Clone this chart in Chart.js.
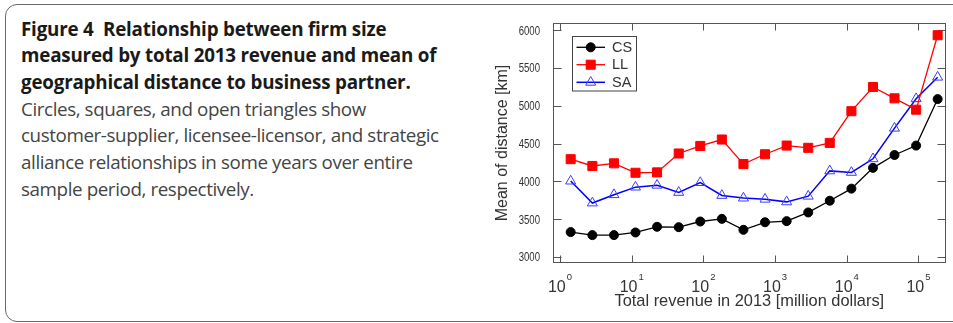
<!doctype html>
<html>
  <head>
    <meta charset="utf-8" />
    <title>Figure 4 firm size vs distance</title>
    <script src="https://cdn.jsdelivr.net/npm/chart.js@4.4.1/dist/chart.umd.min.js"></script>
    <style>
html, body {
  margin: 0;
  padding: 0;
  background: #fff;
}
.page {
  position: relative;
  width: 953px;
  height: 323px;
  overflow: hidden;
}
.frame {
  position: absolute;
  left: 5px;
  top: 4px;
  width: 990px;
  height: 316px;
  border: 1.3px solid #6a6a6a;
  border-radius: 12px;
}
.caption {
  position: absolute;
  left: 21px;
  top: 15.5px;
  font-family: "Open Sans", "Noto Sans", sans-serif;
  font-size: 18.8px;
  line-height: 26.7px;
  color: #444;
  white-space: nowrap;
  letter-spacing: -0.4px;
}
.caption b {
  color: #1a1a1a;
  font-weight: 700;
  letter-spacing: -0.2px;
}
#chart {
  position: absolute;
  left: 480px;
  top: 0;
}
</style>
  </head>
  <body>
    <div class="page">
      <div class="frame"></div>
      <div class="caption">
        <b>Figure 4&nbsp;&nbsp;Relationship between firm size<br>measured by total 2013 revenue and mean of<br>geographical distance to business partner.</b><br>Circles, squares, and open triangles show<br>customer-supplier, licensee-licensor, and strategic<br>alliance relationships in some years over entire<br>sample period, respectively.
      </div>
      <canvas id="chart" width="473" height="323"></canvas>
    </div>
    <script>
      // bin centres of total revenue (million dollars), doubling each bin
      const revenue = [1.41, 2.83, 5.66, 11.3, 22.6, 45.3, 90.5, 181, 362, 724, 1450, 2900, 5790, 11600, 23200, 46300, 92700, 185000];
      // mean distance to partner [km]
      const cs = [3330, 3290, 3290, 3325, 3400, 3395, 3470, 3505, 3360, 3460, 3475, 3590, 3745, 3905, 4180, 4350, 4475, 5090];
      const ll = [4295, 4205, 4240, 4115, 4120, 4370, 4470, 4555, 4230, 4360, 4475, 4445, 4510, 4930, 5250, 5100, 4950, 5935];
      const sa = [4005, 3715, 3825, 3925, 3950, 3855, 3985, 3815, 3780, 3765, 3730, 3805, 4140, 4120, 4300, 4705, 5095, 5380];
      const decades = [1, 10, 100, 1000, 10000, 100000];
      const yTicks = [3000, 3500, 4000, 4500, 5000, 5500, 6000];
      const seriesNames = ['CS', 'LL', 'SA'];

      const pts = (ys) => ys.map((y, i) => ({x: revenue[i], y: y}));
      const axisFont = '"Liberation Sans", Arial, sans-serif';

      function marker(ctx, style, x, y, r, fill, stroke, lw) {
        ctx.save();
        ctx.beginPath();
        if (style === 'circle') {
          ctx.arc(x, y, r, 0, Math.PI * 2);
        } else if (style === 'rect') {
          const s = r * Math.SQRT1_2;
          ctx.rect(x - s, y - s, s * 2, s * 2);
        } else {
          for (let k = 0; k < 3; k++) {
            const a = k * 2 * Math.PI / 3;
            const px = x + Math.sin(a) * r, py = y - Math.cos(a) * r;
            k ? ctx.lineTo(px, py) : ctx.moveTo(px, py);
          }
          ctx.closePath();
        }
        if (fill) { ctx.fillStyle = fill; ctx.fill(); }
        if (stroke) { ctx.lineWidth = lw; ctx.strokeStyle = stroke; ctx.stroke(); }
        ctx.restore();
      }

      // box round the plot, inward ticks on all four sides, tick labels
      const frame = {
        id: 'frame',
        beforeDatasetsDraw(chart) {
          const {ctx, chartArea: a, scales} = chart;
          const L = Math.round(a.left) + 0.5, R = Math.round(a.right) - 0.5;
          const T = Math.round(a.top) + 0.5, B = Math.round(a.bottom) - 0.5;
          ctx.save();
          ctx.strokeStyle = '#555';
          ctx.lineWidth = 1;
          ctx.strokeRect(L, T, R - L, B - T);
          ctx.beginPath();
          scales.y.ticks.forEach((t) => {
            const py = Math.round(scales.y.getPixelForValue(t.value)) + 0.5;
            ctx.moveTo(L, py); ctx.lineTo(L + 8, py);
            ctx.moveTo(R, py); ctx.lineTo(R - 8, py);
          });
          scales.x.ticks.forEach((t) => {
            const px = Math.round(scales.x.getPixelForValue(t.value)) + 0.5;
            ctx.moveTo(px, B); ctx.lineTo(px, B - 7);
            ctx.moveTo(px, T); ctx.lineTo(px, T + 7);
          });
          ctx.stroke();

          ctx.fillStyle = '#333';
          // y labels, squeezed a little sideways
          ctx.font = '12px ' + axisFont;
          ctx.textAlign = 'right';
          ctx.textBaseline = 'middle';
          scales.y.ticks.forEach((t) => {
            const py = scales.y.getPixelForValue(t.value);
            ctx.save();
            ctx.translate(a.left - 13, py + 1);
            ctx.scale(0.8, 1);
            ctx.fillText(String(t.value), 0, 0);
            ctx.restore();
          });

          // x labels as 10 with a raised exponent
          ctx.textBaseline = 'alphabetic';
          ctx.textAlign = 'left';
          scales.x.ticks.forEach((t) => {
            const px = scales.x.getPixelForValue(t.value);
            const exp = String(Math.round(Math.log10(t.value)));
            ctx.font = '16px ' + axisFont;
            const w1 = ctx.measureText('10').width;
            ctx.font = '9.5px ' + axisFont;
            const w2 = ctx.measureText(exp).width;
            const x0 = px - (w1 + 1 + w2) / 2;
            ctx.font = '16px ' + axisFont;
            ctx.fillText('10', x0, 292);
            ctx.font = '9.5px ' + axisFont;
            ctx.fillText(exp, x0 + w1 + 1, 280);
          });
          ctx.restore();
        }
      };

      // legend box in the upper left of the plot
      const legendBox = {
        id: 'legendBox',
        afterDatasetsDraw(chart) {
          const ctx = chart.ctx;
          ctx.save();
          ctx.fillStyle = '#fff';
          ctx.fillRect(92.5, 36.5, 64, 54.5);
          ctx.strokeStyle = '#444';
          ctx.lineWidth = 1;
          ctx.strokeRect(92.5, 36.5, 64, 54.5);
          const rows = [47.3, 64.7, 82.3];
          chart.data.datasets.forEach((ds, i) => {
            const y = rows[i];
            ctx.beginPath();
            ctx.strokeStyle = ds.borderColor;
            ctx.lineWidth = ds.borderWidth;
            ctx.moveTo(96.5, y); ctx.lineTo(125, y);
            ctx.stroke();
            marker(ctx, ds.pointStyle, 110.7, y, ds.pointRadius,
              ds.pointBackgroundColor === 'transparent' ? null : ds.pointBackgroundColor,
              ds.pointBorderColor, ds.pointBorderWidth);
            ctx.fillStyle = '#333';
            ctx.font = '14.5px ' + axisFont;
            ctx.textBaseline = 'middle';
            ctx.fillText(seriesNames[i], 132, y + 0.5);
          });
          ctx.restore();
        }
      };

      new Chart(document.getElementById('chart'), {
        type: 'line',
        data: {
          datasets: [
            {
              label: seriesNames[0], data: pts(cs),
              borderColor: '#000', borderWidth: 1.3,
              pointStyle: 'circle', pointRadius: 4.5,
              pointBackgroundColor: '#000', pointBorderColor: '#000', pointBorderWidth: 1,
            },
            {
              label: seriesNames[1], data: pts(ll),
              borderColor: '#ff0000', borderWidth: 1.3,
              pointStyle: 'rect', pointRadius: 6.4,
              pointBackgroundColor: '#ff0000', pointBorderColor: '#ff0000', pointBorderWidth: 1,
            },
            {
              label: seriesNames[2], data: pts(sa),
              borderColor: '#0000ff', borderWidth: 1.5,
              pointStyle: 'triangle', pointRadius: 5.8,
              pointBackgroundColor: 'transparent', pointBorderColor: '#3c3cff', pointBorderWidth: 1,
            },
          ]
        },
        options: {
          responsive: false,
          animation: false,
          devicePixelRatio: 1,
          layout: {padding: {top: 23, right: 7, bottom: 0, left: 0}},
          plugins: {legend: {display: false}, tooltip: {enabled: false}},
          elements: {line: {tension: 0}},
          scales: {
            x: {
              type: 'logarithmic',
              min: 0.799,
              max: 238900,
              grid: {display: false},
              border: {display: false},
              ticks: {display: false},
              afterBuildTicks(scale) { scale.ticks = decades.map((v) => ({value: v})); },
              afterFit(scale) { scale.height = 60; },
              title: {
                display: true,
                text: 'Total revenue in 2013 [million dollars]',
                color: '#333',
                font: {family: axisFont, size: 16.4},
                padding: {top: 0, bottom: 12},
              },
            },
            y: {
              min: 2921,
              max: 6097,
              grid: {display: false},
              border: {display: false},
              ticks: {display: false},
              afterBuildTicks(scale) { scale.ticks = yTicks.map((v) => ({value: v})); },
              afterFit(scale) { scale.width = 73; },
              title: {
                display: true,
                text: 'Mean of distance [km]',
                color: '#333',
                font: {family: axisFont, size: 16},
                padding: {top: 13, bottom: 0},
              },
            },
          },
        },
        plugins: [frame, legendBox],
      });
    </script>
  </body>
</html>
